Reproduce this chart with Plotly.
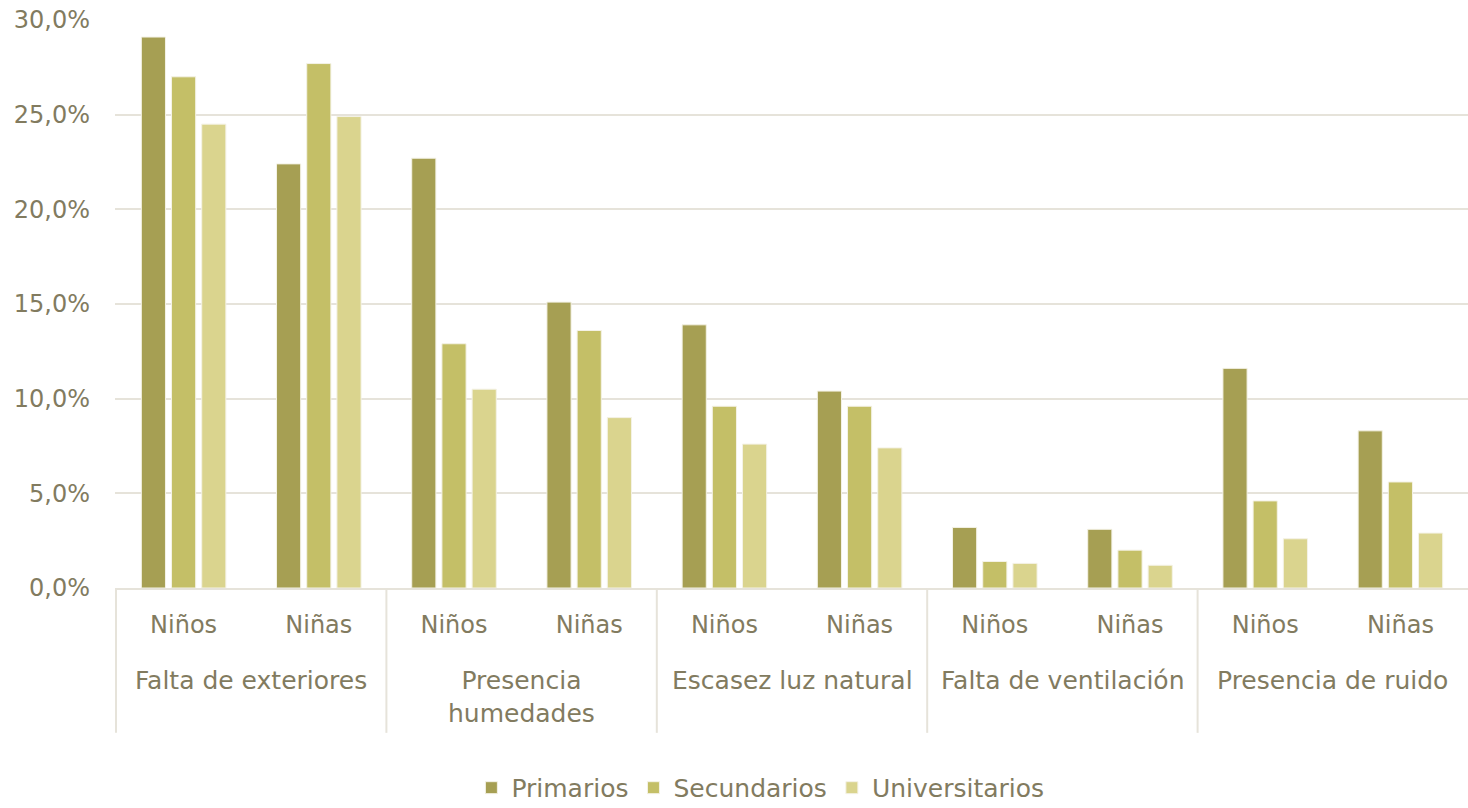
import plotly.graph_objects as go

grupos = ["Falta de exteriores", "Presencia<br>humedades", "Escasez luz natural",
          "Falta de ventilación", "Presencia de ruido"]
sexos = ["Niños", "Niñas"]

primarios = [29.1, 22.4, 22.7, 15.1, 13.9, 10.4, 3.2, 3.1, 11.6, 8.3]
secundarios = [27.0, 27.7, 12.9, 13.6, 9.6, 9.6, 1.4, 2.0, 4.6, 5.6]
universitarios = [24.5, 24.9, 10.5, 9.0, 7.6, 7.4, 1.3, 1.2, 2.6, 2.9]

series = [
    ("Primarios", primarios, "#a69f53"),
    ("Secundarios", secundarios, "#c4bf67"),
    ("Universitarios", universitarios, "#dad48e"),
]

# one unique category per (problem, sex) pair; the tick shows only the sex
categorias = [f"{g}|{s}" for g in grupos for s in sexos]
etiquetas = [s for g in grupos for s in sexos]

text_color = "#827b5f"
grid_color = "#e6e3da"
font_family = "'DejaVu Sans', sans-serif"

fig = go.Figure()
for name, vals, color in series:
    fig.add_trace(go.Bar(
        name=name,
        x=categorias,
        y=vals,
        marker=dict(color=color, line=dict(color="#f4f2e6", width=1)),
    ))

# group labels and dividers below the axis
annotations = []
shapes = []
for i, g in enumerate(grupos):
    annotations.append(dict(
        x=2 * i + 0.5, xref="x", y=-0.133, yref="paper",
        text=g, showarrow=False, xanchor="center", yanchor="top",
        font=dict(family=font_family, size=25, color=text_color),
    ))
for i in range(len(grupos)):
    shapes.append(dict(
        type="line", xref="x", yref="paper",
        x0=2 * i - 0.5, x1=2 * i - 0.5, y0=0, y1=-0.255,
        line=dict(color=grid_color, width=2),
    ))

fig.update_layout(
    width=1468, height=808,
    margin=dict(l=115, r=0, t=20, b=220, autoexpand=False),
    paper_bgcolor="white", plot_bgcolor="white",
    barmode="group", bargap=0.33, bargroupgap=0.2,
    separators=",.",
    font=dict(family=font_family, size=24, color=text_color),
    legend=dict(orientation="h", x=0.477, xanchor="center", y=-0.352, yanchor="middle",
                font=dict(size=25, color=text_color), traceorder="normal"),
    annotations=annotations,
    shapes=shapes,
)
fig.update_yaxes(range=[0, 30], dtick=5, tickformat=".1f", ticksuffix="%",
                 showgrid=True, gridcolor=grid_color, gridwidth=2,
                 zeroline=False, showline=False, ticks="", ticklabelstandoff=24)
fig.update_xaxes(type="category", tickvals=categorias, ticktext=etiquetas,
                 showline=True, linecolor=grid_color, linewidth=2,
                 ticks="", ticklabelstandoff=14,
                 tickfont=dict(size=24, color=text_color))

fig.write_html("out.html")
